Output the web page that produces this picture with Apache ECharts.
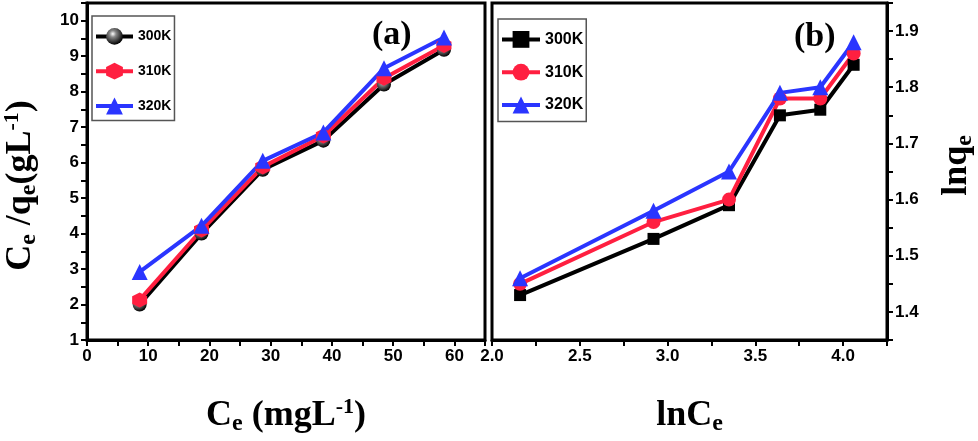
<!DOCTYPE html>
<html>
<head>
    <meta charset="utf-8">
    <title>ECharts</title>
    <script src="https://cdn.jsdelivr.net/npm/echarts@6/dist/echarts.min.js"></script>
</head>
<body style="margin:0;background:#fff">
    <div id="main" style="width:978px;height:441px;"></div>

    <script type="text/javascript">
    // panel (a): Ce vs Ce/qe
    var ceA = [8.6, 18.7, 28.7, 38.6, 48.5, 58.3];
    var ratio300 = [2.0, 4.0, 5.8, 6.62, 8.2, 9.18];
    var ratio310 = [2.13, 4.1, 5.88, 6.75, 8.38, 9.3];
    var ratio320 = [2.92, 4.22, 6.05, 6.85, 8.66, 9.53];
    // panel (b): lnCe vs lnqe
    var lnCe = [2.16, 2.92, 3.35, 3.64, 3.87, 4.06];
    var lnq300 = [1.43, 1.53, 1.59, 1.75, 1.76, 1.84];
    var lnq310 = [1.45, 1.56, 1.60, 1.78, 1.78, 1.86];
    var lnq320 = [1.46, 1.58, 1.65, 1.79, 1.80, 1.88];

    var namesA = ['300K', '310K', '320K'];
    var namesB = ['300K ', '310K ', '320K '];   // trailing space keeps the two legends apart

    var BLACK = '#000000', RED = '#ff1f40', BLUE = '#2a35ff';
    var SANS = "'Liberation Sans', Arial, sans-serif";
    var SERIF = "'Liberation Serif', 'Times New Roman', serif";
    var hexagon = 'path://M0,-10L8.66,-5L8.66,5L0,10L-8.66,5L-8.66,-5Z';
    var sphere = {
        type: 'radial', x: 0.4, y: 0.35, r: 0.65,
        colorStops: [{offset: 0, color: '#ffffff'}, {offset: 0.3, color: '#888'}, {offset: 1, color: '#000'}]
    };

    function pairs(xs, ys)
    {
        var res = [];
        for (var i = 0; i < xs.length; i++)
            res.push([xs[i], ys[i]]);
        return res;
    }

    var richName = {
        m: {fontFamily: SERIF, fontWeight: 'bold', fontSize: 36, color: '#000', lineHeight: 40},
        s: {fontFamily: SERIF, fontWeight: 'bold', fontSize: 24, color: '#000', lineHeight: 20, verticalAlign: 'bottom'},
        p: {fontFamily: SERIF, fontWeight: 'bold', fontSize: 22, color: '#000', lineHeight: 24, verticalAlign: 'top'}
    };

    var axisLine = {lineStyle: {color: '#000', width: 3}};
    var axisTick = {length: 6, lineStyle: {color: '#000', width: 2}};
    var labelStyle = {color: '#000', fontFamily: SANS, fontWeight: 'bold', fontSize: 17, margin: 8};

    function lineSeries(name, xi, yi, data, color, symbol, size, symColor)
    {
        return {
            name: name,
            type: 'line',
            xAxisIndex: xi,
            yAxisIndex: yi,
            data: data,
            symbol: symbol,
            symbolSize: size,
            lineStyle: {color: color, width: 4},
            itemStyle: {color: symColor || color},
            animation: false
        };
    }

    var legendBase = {
        orient: 'vertical',
        itemHeight: 21,
        borderColor: '#555',
        borderWidth: 1.5,
        borderRadius: 0,
        backgroundColor: '#fff',
        lineStyle: {width: 4},
        selectedMode: false,
        formatter: function (n) { return n.trim(); }
    };

    var myChart = echarts.init(document.getElementById('main'));

    var option = {
        backgroundColor: '#fff',
        title: [
            {text: '(a)', left: 372, top: 18, padding: 0,
             textStyle: {fontFamily: SERIF, fontWeight: 'bold', fontSize: 34, color: '#000'}},
            {text: '(b)', left: 794, top: 20, padding: 0,
             textStyle: {fontFamily: SERIF, fontWeight: 'bold', fontSize: 34, color: '#000'}}
        ],
        legend: [
            Object.assign({}, legendBase, {
                data: namesA, left: 92, top: 16, padding: [12, 3, 6, 2], itemWidth: 37, itemGap: 18,
                textStyle: {fontFamily: SANS, fontWeight: 'bold', fontSize: 14, color: '#000'}
            }),
            Object.assign({}, legendBase, {
                data: namesB, left: 498, top: 19, padding: [12, 3, 8, 2], itemWidth: 38, itemGap: 16,
                textStyle: {fontFamily: SANS, fontWeight: 'bold', fontSize: 16, color: '#000'}
            })
        ],
        grid: [
            {left: 85, top: 3, width: 400, height: 342, show: true, borderColor: '#000', borderWidth: 3},
            {left: 492, top: 3, width: 403, height: 342, show: true, borderColor: '#000', borderWidth: 3}
        ],
        xAxis: [
            {
                gridIndex: 0, type: 'value', min: 0, max: 65, interval: 5,
                axisLine: axisLine, axisTick: axisTick, splitLine: {show: false},
                axisLabel: Object.assign({}, labelStyle, {
                    formatter: function (v) { return v % 10 === 0 ? String(v) : ''; }
                }),
                name: '{m|C}{s|e}{m| (mgL}{p|-1}{m|)}',
                nameLocation: 'middle', nameGap: 56,
                nameTextStyle: {rich: richName}
            },
            {
                gridIndex: 1, type: 'value', min: 2.0, max: 4.25, interval: 0.25,
                axisLine: axisLine, axisTick: axisTick, splitLine: {show: false},
                axisLabel: Object.assign({}, labelStyle, {
                    formatter: function (v) { return Math.abs(v * 2 - Math.round(v * 2)) < 1e-6 ? v.toFixed(1) : ''; }
                }),
                name: '{m|lnC}{s|e}',
                nameLocation: 'middle', nameGap: 56,
                nameTextStyle: {rich: richName}
            }
        ],
        yAxis: [
            {
                gridIndex: 0, type: 'value', min: 1, max: 10.5, interval: 0.5,
                axisLine: axisLine, axisTick: axisTick, splitLine: {show: false},
                axisLabel: Object.assign({}, labelStyle, {
                    formatter: function (v) { return v % 1 === 0 ? String(v) : ''; }
                }),
                name: '{m|C}{s|e}{m| /q}{s|e}{m|(gL}{p|-1}{m|)}',
                nameLocation: 'middle', nameGap: 46, nameRotate: 90,
                nameTextStyle: {rich: richName, padding: [0, 28, 0, 0]}
            },
            {
                gridIndex: 1, type: 'value', position: 'right', min: 1.35, max: 1.95, interval: 0.05,
                axisLine: axisLine, axisTick: axisTick, splitLine: {show: false},
                axisLabel: Object.assign({}, labelStyle, {
                    formatter: function (v) {
                        var t = v * 10;
                        return Math.abs(t - Math.round(t)) < 1e-6 ? v.toFixed(1) : '';
                    }
                }),
                name: '{m|lnq}{s|e}',
                nameLocation: 'middle', nameGap: 50, nameRotate: 90,
                nameTextStyle: {rich: richName, padding: [0, 0, 0, 12]}
            }
        ],
        series: [
            lineSeries(namesA[0], 0, 0, pairs(ceA, ratio300), BLACK, 'circle', 14, sphere),
            lineSeries(namesA[1], 0, 0, pairs(ceA, ratio310), RED, hexagon, 15),
            lineSeries(namesA[2], 0, 0, pairs(ceA, ratio320), BLUE, 'triangle', 16),
            lineSeries(namesB[0], 1, 1, pairs(lnCe, lnq300), BLACK, 'rect', 12),
            lineSeries(namesB[1], 1, 1, pairs(lnCe, lnq310), RED, 'circle', 14),
            lineSeries(namesB[2], 1, 1, pairs(lnCe, lnq320), BLUE, 'triangle', 16)
        ]
    };

    myChart.setOption(option);
    </script>
</body>
</html>
